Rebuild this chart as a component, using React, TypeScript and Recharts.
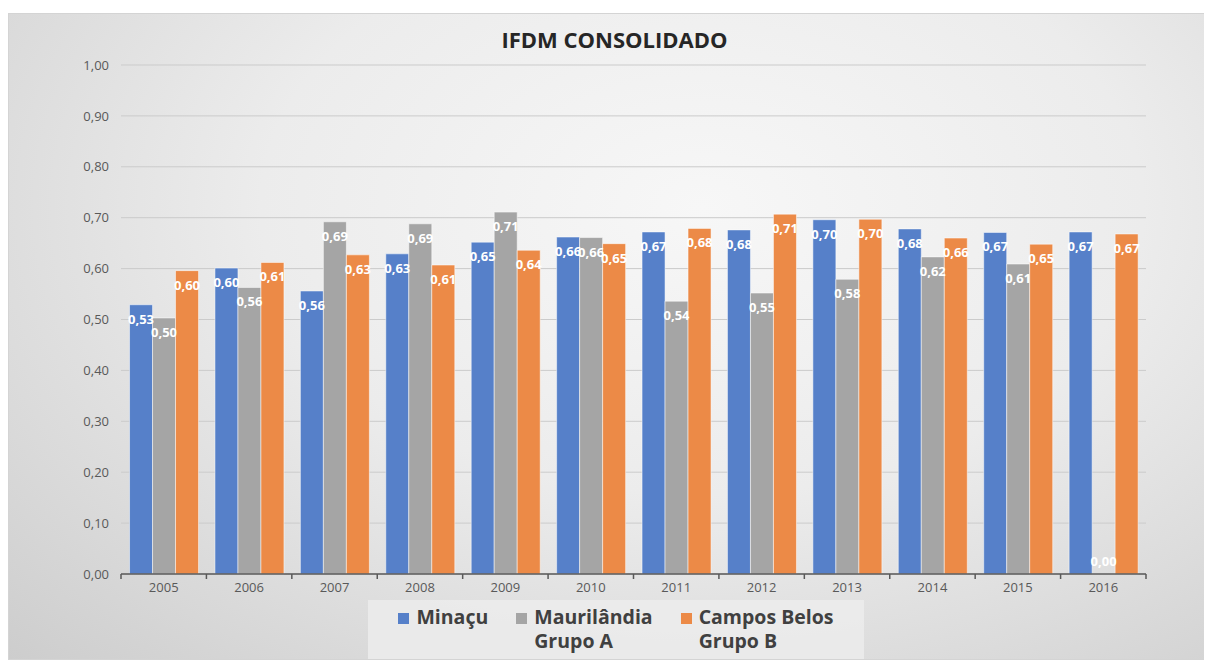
import React from "react";
import { BarChart, Bar, XAxis, YAxis, CartesianGrid, LabelList } from "recharts";

// IFDM consolidado por ano
const years = ["2005", "2006", "2007", "2008", "2009", "2010", "2011", "2012", "2013", "2014", "2015", "2016"];
const minacu = [0.529, 0.601, 0.556, 0.629, 0.652, 0.662, 0.672, 0.676, 0.696, 0.678, 0.671, 0.672];
const maurilandia = [0.503, 0.563, 0.692, 0.688, 0.711, 0.661, 0.536, 0.552, 0.579, 0.623, 0.609, 0];
const camposBelos = [0.596, 0.612, 0.627, 0.607, 0.636, 0.649, 0.679, 0.707, 0.697, 0.66, 0.648, 0.668];
const yTicks = [0, 0.1, 0.2, 0.3, 0.4, 0.5, 0.6, 0.7, 0.8, 0.9, 1];

const seriesKeys = ["minacu", "maurilandia", "camposBelos"];
const seriesNames = ["Minaçu", "Maurilândia\nGrupo A", "Campos Belos\nGrupo B"];
const seriesColors = ["#5680C9", "#A5A5A5", "#EC8A47"];

const data = years.map((year, i) => ({
  year,
  minacu: minacu[i],
  maurilandia: maurilandia[i],
  camposBelos: camposBelos[i],
}));

const W = 1197;
const H = 647;
const MARGIN = { top: 51, right: 60, left: 52, bottom: 57 };
const Y_AXIS_W = 60;
const BAND = (W - MARGIN.left - MARGIN.right - Y_AXIS_W) / years.length;
const FONT = "'Open Sans', 'Liberation Sans', sans-serif";
const TEXT = "#595959";

const fmt = (v: number) => v.toFixed(2).replace(".", ",");

// year label plus the small boundary ticks between categories
const YearTick = (props: any) => {
  const { x, y, payload, index } = props;
  return (
    <g>
      <text x={x} y={y} dy="0.71em" textAnchor="middle" fill={TEXT} fontSize={13} fontFamily={FONT}>
        {payload.value}
      </text>
      {index === 0 && (
        <line x1={x - BAND / 2} x2={x - BAND / 2} y1={y - 9} y2={y - 4} stroke={TEXT} strokeWidth={1.5} />
      )}
      <line x1={x + BAND / 2} x2={x + BAND / 2} y1={y - 9} y2={y - 4} stroke={TEXT} strokeWidth={1.5} />
    </g>
  );
};

const BarValue = (props: any) => {
  const { x, y, width, height, value } = props;
  const v = Number(value);
  const top = Number(y);
  const tall = Math.abs(Number(height)) > 1;
  return (
    <text
      x={Number(x) + Number(width) / 2}
      y={tall ? top + 14 : top - 13}
      textAnchor="middle"
      dominantBaseline="central"
      fill="#ffffff"
      fontWeight={700}
      fontSize={13}
      fontFamily={FONT}
    >
      {fmt(v)}
    </text>
  );
};

const LegendBox = () => (
  <div
    style={{
      position: "absolute",
      left: 359,
      top: 586,
      width: 496,
      height: 60,
      background: "rgba(236,236,236,0.85)",
      display: "flex",
      justifyContent: "center",
      gap: 28,
      paddingTop: 5,
      boxSizing: "border-box",
      fontFamily: FONT,
    }}
  >
    {seriesNames.map((name, i) => (
      <div key={name} style={{ display: "flex", alignItems: "flex-start" }}>
        <span
          style={{
            width: 11,
            height: 11,
            background: seriesColors[i],
            marginTop: 8,
            marginRight: 7,
            flex: "none",
          }}
        />
        <span
          style={{
            whiteSpace: "pre-line",
            fontSize: 19.5,
            lineHeight: "24px",
            fontWeight: 700,
            color: "#404040",
          }}
        >
          {name}
        </span>
      </div>
    ))}
  </div>
);

export default function App() {
  return (
    <div
      style={{
        position: "relative",
        width: W,
        height: H,
        marginTop: 5,
        border: "1px solid #d4d4d4",
        boxSizing: "border-box",
        background: "radial-gradient(ellipse at 58% 30%, #f7f7f7 0%, #ececec 45%, #cdcdcd 100%)",
        overflow: "hidden",
      }}
    >
      <div
        style={{
          position: "absolute",
          top: 10,
          left: 0,
          width: "100%",
          paddingLeft: 16,
          boxSizing: "border-box",
          textAlign: "center",
          fontFamily: FONT,
          fontSize: 22,
          fontWeight: 700,
          color: "#262626",
        }}
      >
        IFDM CONSOLIDADO
      </div>
      <BarChart width={W} height={H} data={data} margin={MARGIN} barCategoryGap="10%" barGap={0}>
        <CartesianGrid vertical={false} stroke="#cbcbcb" />
        <XAxis
          dataKey="year"
          tick={<YearTick />}
          tickLine={false}
          tickSize={0}
          tickMargin={9}
          axisLine={{ stroke: TEXT, strokeWidth: 1.5 }}
          interval={0}
        />
        <YAxis
          width={Y_AXIS_W}
          domain={[0, 1]}
          ticks={yTicks}
          tickFormatter={fmt}
          axisLine={false}
          tickLine={false}
          tickSize={0}
          tickMargin={12}
          tick={{ fill: TEXT, fontSize: 13, fontFamily: FONT }}
        />
        {seriesKeys.map((key, i) => (
          <Bar
            key={key}
            dataKey={key}
            name={seriesNames[i]}
            fill={seriesColors[i]}
            stroke="#ffffff"
            strokeOpacity={0.5}
            minPointSize={0.01}
            isAnimationActive={false}
          >
            <LabelList dataKey={key} content={<BarValue />} />
          </Bar>
        ))}
      </BarChart>
      <LegendBox />
    </div>
  );
}
